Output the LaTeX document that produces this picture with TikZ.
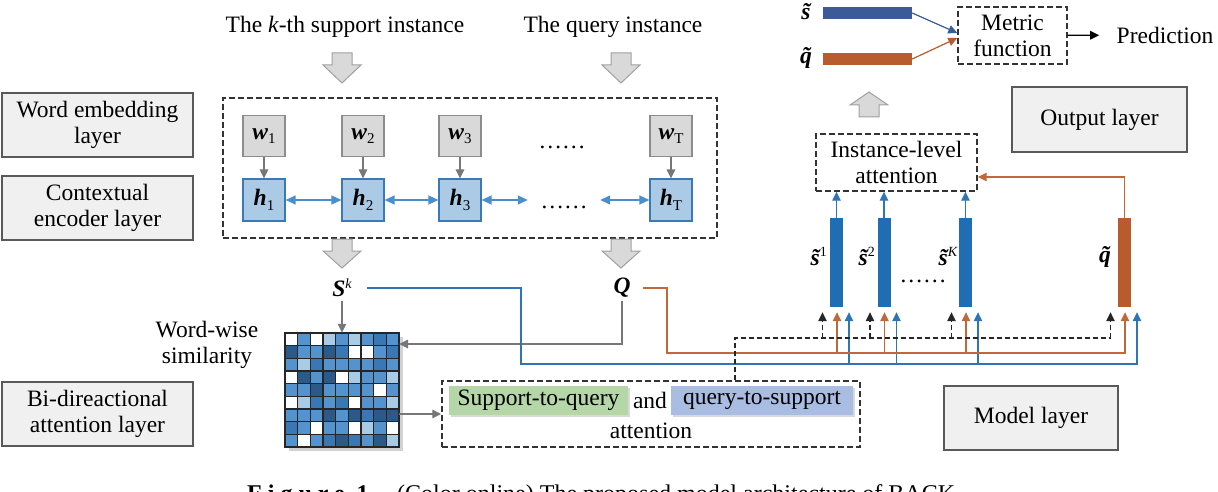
\documentclass[tikz,border=0pt]{standalone}
\usepackage{fontspec}
\setmainfont{Liberation Serif}
\usetikzlibrary{arrows.meta,calc,shadows}
\definecolor{layfill}{HTML}{F0F0F0}
\definecolor{laydraw}{HTML}{595959}
\definecolor{wfill}{HTML}{D9D9D9}
\definecolor{wdraw}{HTML}{8C8C8C}
\definecolor{hfill}{HTML}{AACAE6}
\definecolor{hdraw}{HTML}{3B78B8}
\definecolor{harr}{HTML}{4A8FCC}
\definecolor{garr}{HTML}{777777}
\definecolor{dashc}{HTML}{333333}
\definecolor{barblue}{HTML}{1F6EB4}
\definecolor{lineblue}{HTML}{2E75B6}
\definecolor{barorange}{HTML}{B85C2E}
\definecolor{lineorange}{HTML}{C0683A}
\definecolor{navy}{HTML}{3B5A98}
\definecolor{hlgreen}{HTML}{B5D6A7}
\definecolor{hlblue}{HTML}{A9BCE2}
\definecolor{mW}{HTML}{FFFFFF}
\definecolor{mL}{HTML}{A9CBE6}
\definecolor{mM}{HTML}{5593CF}
\definecolor{mB}{HTML}{3A78B5}
\definecolor{mD}{HTML}{2C5A88}
\definecolor{blockfill}{HTML}{D9D9D9}
\definecolor{blockdraw}{HTML}{A0A0A0}
\newcommand\sbs[1]{\raisebox{-0.4ex}{\normalfont\fontsize{15}{15}\selectfont #1}}
\newcommand\sps[1]{\raisebox{0.75ex}{\normalfont\fontsize{14}{14}\selectfont #1}}
\newcommand\tld[1]{\ooalign{\hfil\char"02DC\hfil\cr#1\cr}}
\newcommand\bi[1]{\textbf{\textit{#1}}}
\newcommand\blockdown[3]{\filldraw[block] ({#1-10},#2) -- ({#1+10},#2) -- ({#1+10},{#2+12}) -- ({#1+19},{#2+12}) -- (#1,#3) -- ({#1-19},{#2+12}) -- ({#1-10},{#2+12}) -- cycle;}
\newcommand\blockup[3]{\filldraw[block] ({#1-10},#2) -- ({#1+10},#2) -- ({#1+10},{#2-12}) -- ({#1+19},{#2-12}) -- (#1,#3) -- ({#1-19},{#2-12}) -- ({#1-10},{#2-12}) -- cycle;}
\begin{document}
\begin{tikzpicture}[x=1pt,y=-1pt,
  every node/.style={font=\fontsize{23.5}{26}\selectfont},
  tip/.style={-{Triangle[length=9pt,width=8.5pt]}},
  layerbox/.style={draw=laydraw, fill=layfill, line width=1.2pt, align=center, inner sep=0pt, minimum width=191, minimum height=64},
  dbox/.style={draw=dashc, line width=1.4pt, dash pattern=on 6pt off 3pt, align=center, inner sep=0pt},
  wbox/.style={draw=wdraw, fill=wfill, line width=1.2pt, inner sep=0pt, minimum width=42, minimum height=41},
  hbox/.style={draw=hdraw, fill=hfill, line width=1.2pt, inner sep=0pt, minimum width=42, minimum height=42},
  garrow/.style={draw=garr, line width=1.3pt, tip},
  hbi/.style={draw=harr, line width=1.3pt, {Triangle[length=10pt,width=9pt]}-{Triangle[length=10pt,width=9pt]}},
  block/.style={fill=blockfill, draw=blockdraw, line width=1pt},
  hl/.style={inner sep=0pt, minimum height=29, drop shadow={shadow xshift=2pt, shadow yshift=-2pt, opacity=0.3}},
  bar/.style={inner sep=0pt, minimum width=13, minimum height=89},
  barlab/.style={inner sep=0pt, anchor=base east},
  kdash/.style={draw=black!85, line width=1.2pt, dash pattern=on 5pt off 3pt},
  oline/.style={draw=lineorange, line width=1.2pt},
  uline/.style={draw=lineblue, line width=1.2pt}]
\useasboundingbox (0,0) rectangle (1218,492);

% layer boxes
\node[layerbox] (wel) at (97.5,125) {Word embedding\\layer};
\node[layerbox] (cel) at (97.5,208) {Contextual\\encoder layer};
\node[layerbox] (bal) at (97.5,414) {Bi-direactional\\attention layer};
\node[layerbox, minimum width=175, minimum height=65] (outl) at (1099.5,119.5) {Output layer};
\node[layerbox, minimum width=174, minimum height=64] (modl) at (1031,418) {Model layer};

% top labels and block arrows
\node[anchor=base] (sup) at (345,33) {The \textit{k}-th support instance};
\node[anchor=base] (qry) at (613,33) {The query instance};
\blockdown{342}{53}{83}
\blockdown{621}{53}{83}

% encoder box
\node[dbox, minimum width=494, minimum height=140] (enc) at (470,168) {};
\node[wbox] (w1) at (264,136) {\bi{w}\sbs{1}};
\node[wbox] (w2) at (363,136) {\bi{w}\sbs{2}};
\node[wbox] (w3) at (460,136) {\bi{w}\sbs{3}};
\node[wbox] (wT) at (671,136) {\bi{w}\sbs{T}};
\node[hbox] (h1) at (264,200) {\bi{h}\sbs{1}};
\node[hbox] (h2) at (363,200) {\bi{h}\sbs{2}};
\node[hbox] (h3) at (460,200) {\bi{h}\sbs{3}};
\node[hbox] (hT) at (671,200) {\bi{h}\sbs{T}};
\node[inner sep=0pt] (wdots) at (562,147) {……};
\node[inner sep=0pt, minimum width=72] (hdots) at (564,207) {……};
\foreach \i in {1,2,3,T} \draw[garrow] (w\i) -- (h\i);
\draw[hbi] (h1) -- (h2);
\draw[hbi] (h2) -- (h3);
\draw[hbi] (h3.east) -- (hdots.west |- h3.east);
\draw[hbi] (hdots.east |- hT.west) -- (hT.west);

\blockdown{342}{239}{268}
\blockdown{621}{239}{268}

\node (Sk) at (342,288) {\bi{S}\sps{\textit{k}}};
\node (Q) at (622,288) {\bi{Q}};
\node[align=center] (wws) at (207,345) {Word-wise\\similarity};

% matrix
\node[minimum width=114, minimum height=114, inner sep=0pt] (mat) at (342,390) {};
\fill[black!35, opacity=0.5] (289,337) rectangle (403,451);
\foreach \rowlist [count=\r] in {{W,M,W,L,M,L,M,B,M},{D,M,M,D,B,W,W,M,B},{M,L,B,M,M,M,M,B,M},{W,D,M,D,W,L,M,M,L},{M,M,D,M,M,M,M,W,M},{W,L,B,M,B,W,M,M,L},{M,M,M,D,M,D,B,D,D},{B,M,W,M,M,W,L,M,W},{M,W,M,B,D,B,M,D,L}}{
  \foreach \c [count=\k] in \rowlist {
    \filldraw[fill=m\c, draw=black!85, line width=1.1pt] ({285+(\k-1)*12.667},{333+(\r-1)*12.667}) rectangle ++(12.667,12.667);
  }
}
\draw[garrow] (Sk) -- (mat);
\coordinate (matin) at (399,344);
\draw[garrow] (Q.south) |- (matin);

% bi-directional attention box
\node[dbox, minimum width=418, minimum height=66] (att) at (651,414) {};
\node[hl, fill=hlgreen, minimum width=179] (s2q) at (538.5,400.5) {Support-to-query};
\node (and) at (650,400.5) {and};
\node[hl, fill=hlblue, minimum width=182] (q2s) at (762,400.5) {query-to-support};
\node (attn) at (651,431) {attention};
\draw[garrow] ([yshift=-24pt]mat.east) -- (att.west);

% output part
\node[fill=navy, minimum width=89, minimum height=12, inner sep=0pt] (sbar) at (867.5,13) {};
\node[fill=barorange, minimum width=89, minimum height=12, inner sep=0pt] (qbar) at (867.5,59) {};
\node (slab) at (806,12) {\bi{\tld{s}}};
\node (qlab) at (806,58) {\bi{\tld{q}}};
\node[dbox, minimum width=109, minimum height=57] (met) at (1012.5,35.5) {Metric\\function};
\draw[line width=1.2pt, navy, tip] (sbar.east) -- ([yshift=2.5pt]met.west);
\draw[line width=1.2pt, barorange, tip] (qbar.east) -- ([yshift=-2.5pt]met.west);
\node (pred) at (1165,35) {Prediction};
\draw[line width=1.3pt, black, tip, shorten >=14pt] (met) -- (pred);
\blockup{869}{117}{92}
\node[dbox, minimum width=161, minimum height=57] (inst) at (896.5,162.5) {Instance-level\\attention};

% bars
\node[bar, fill=barblue] (b1) at (836.5,262.5) {};
\node[bar, fill=barblue] (b2) at (884,262.5) {};
\node[bar, fill=barblue] (bK) at (965.5,262.5) {};
\node[bar, fill=barorange] (bq) at (1124.5,262.5) {};
\node[barlab] (l1) at (827,265) {\bi{\tld{s}}\sps{1}};
\node[barlab] (l2) at (875,265) {\bi{\tld{s}}\sps{2}};
\node[barlab] (lK) at (958,265) {\bi{\tld{s}}\sps{\textit{K}}};
\node[barlab] (lq) at (1111,262) {\bi{\tld{q}}};
\node[inner sep=0pt] (bdots) at (923,281) {……};
\foreach \b in {b1,b2,bK} \draw[uline, tip] (\b) -- (\b |- inst.south);
\draw[oline, tip] (bq) |- ([yshift=-14.5pt]inst.east);

% bottom wiring
\foreach \b in {b1,b2,bK,bq} {
  \coordinate (\b k) at ([xshift=-14pt,yshift=-5pt]\b.south);
  \coordinate (\b o) at ([xshift=0.5pt,yshift=-5pt]\b.south);
  \coordinate (\b u) at ([xshift=12.5pt,yshift=-5pt]\b.south);
}
\coordinate (kbus) at (735,338);
\coordinate (obus) at (667,353);
\coordinate (ubus) at (521,364);
\draw[uline, tip] ([xshift=12pt]Sk.east) -| (ubus) -- (ubus -| bqu) -- (bqu);
\foreach \b in {b1,b2,bK} \draw[uline, tip] (ubus -| \b u) -- (\b u);
\draw[oline, tip] ([xshift=9pt]Q.east) -| (obus) -- (obus -| bqo) -- (bqo);
\foreach \b in {b1,b2,bK} \draw[oline, tip] (obus -| \b o) -- (\b o);
\draw[kdash] (att.north -| kbus) -- (kbus) -- (kbus -| bqk);
\foreach \b in {b1,b2,bK,bq} \draw[kdash, tip] (kbus -| \b k) -- (\b k);

% caption (cut off at the bottom edge, as in the reference)
\node[anchor=base west, inner sep=0pt, font=\fontsize{24}{28}\selectfont\bfseries\addfontfeature{LetterSpace=25}] (cap1) at (247,501) {Figure 1};
\node[anchor=base west, inner sep=0pt, font=\fontsize{24}{28}\selectfont] (cap2) at (397,501) {(Color online) The proposed model architecture of BACK.};
\end{tikzpicture}
\end{document}
